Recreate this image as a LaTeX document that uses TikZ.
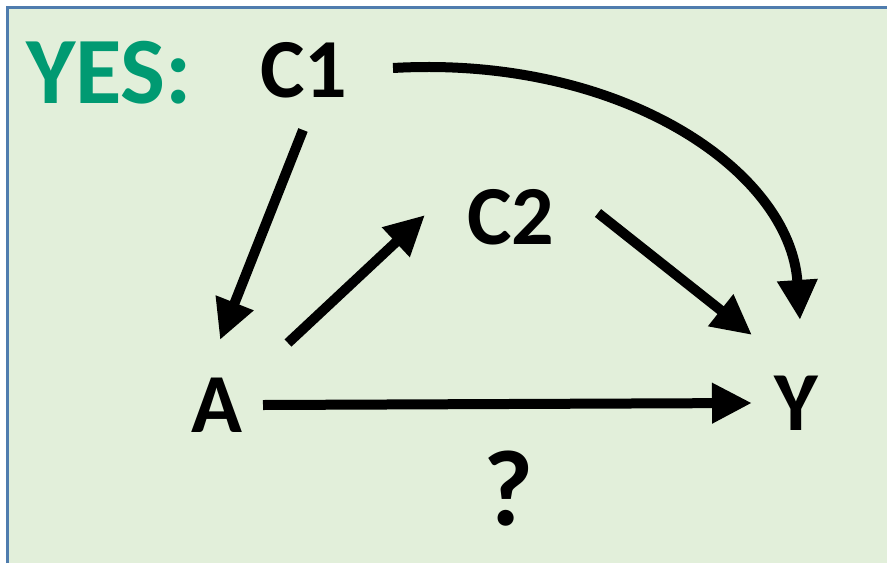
\documentclass[tikz,border=0pt]{standalone}
\usepackage{fontspec}
\setmainfont{Carlito}
\usetikzlibrary{arrows.meta}
\definecolor{boxgreen}{HTML}{E2EFDA}
\definecolor{boxline}{HTML}{4F7CAE}
\definecolor{yesgreen}{HTML}{009A72}

\begin{document}
\begin{tikzpicture}[x=1pt, y=-1pt,
    lbl/.style={inner sep=0pt, font=\fontsize{84}{88}\selectfont\bfseries},
    arr/.style={line width=10pt, -{Triangle[length=40pt,width=38pt]}}]
    % Frame
    \useasboundingbox (0,0) rectangle (887,563);
    \fill[boxgreen] (7,7) rectangle (887,563);
    \draw[boxline, line width=3pt] (7,563) -- (7,7) -- (887,7);
    % Labels
    \node[lbl, text=yesgreen, font=\fontsize{95}{98}\selectfont\bfseries] (yes) at (109,73) {YES:};
    \node[lbl] (C1) at (304,70) {C1};
    \node[lbl] (C2) at (511,217) {C2};
    \node[lbl] (A) at (217,405) {A};
    \node[lbl] (Y) at (796,403) {Y};
    \node[lbl, font=\fontsize{108}{110}\selectfont\bfseries] (q) at (509,489) {?};
    % Arrows
    \draw[arr] ([shift={(-1,60)}]C1.center) -- ([shift={(3,-65)}]A.center);
    \draw[arr] ([shift={(71,-62)}]A.center) -- ([shift={(-86,-2)}]C2.center);
    \draw[arr] ([shift={(87,-4)}]C2.center) -- ([shift={(-44,-68)}]Y.center);
    \draw[arr] ([shift={(46,0)}]A.center) -- ([shift={(-44,0)}]Y.center);
    \draw[arr] ([shift={(89,-2)}]C1.center) .. controls (620,55) and (790,170) .. ([shift={(4,-83)}]Y.center);
\end{tikzpicture}
\end{document}
